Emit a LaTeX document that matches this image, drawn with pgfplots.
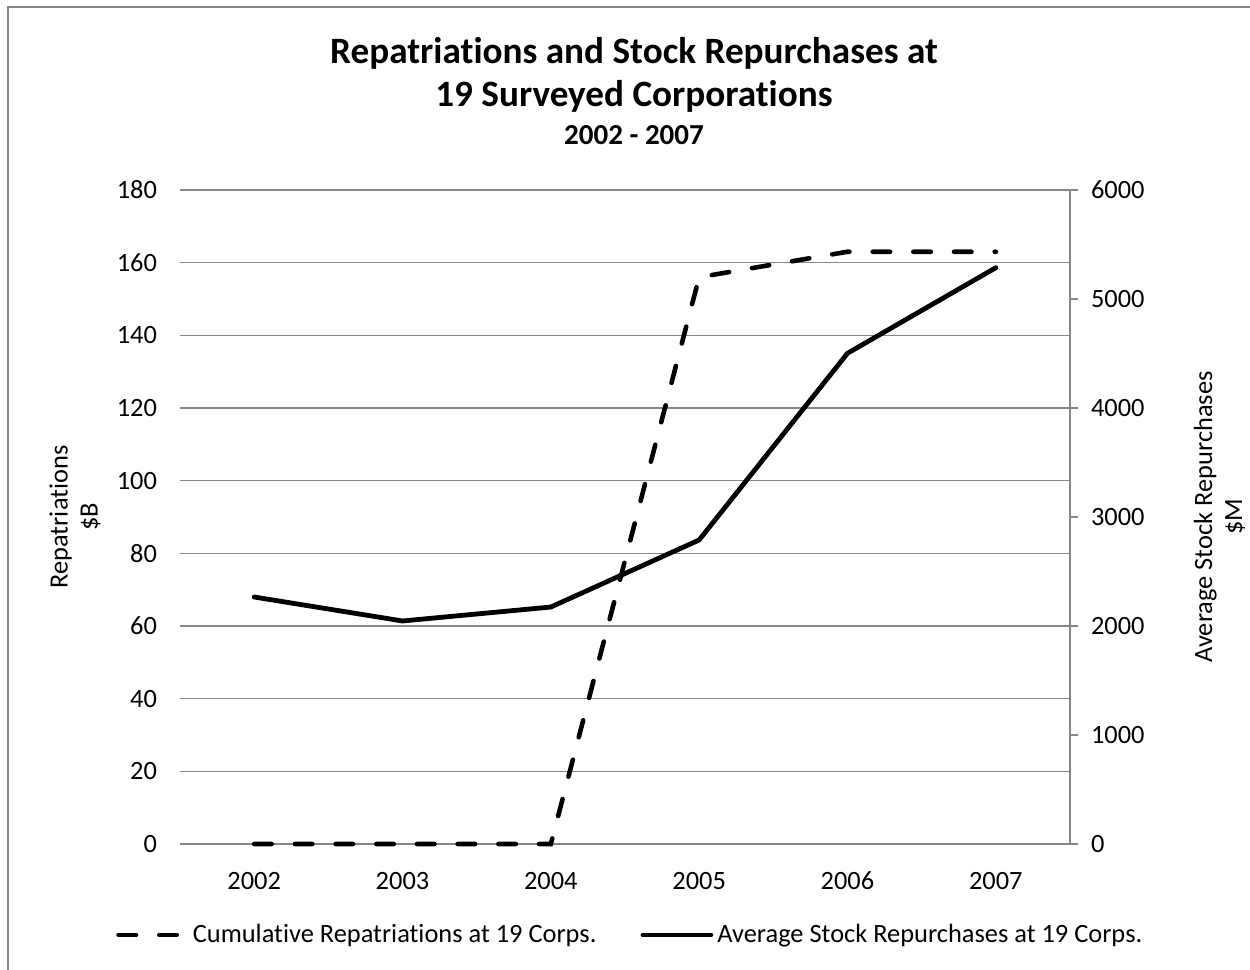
\documentclass[border=0pt]{standalone}
\usepackage{fontspec}
\setmainfont{Carlito}[Ligatures=NoCommon]
\usepackage{pgfplots}
\pgfplotsset{compat=1.18}
\definecolor{gridgray}{RGB}{134,134,134}

\pgfplotsset{
  common/.style={
    at={(90pt,63pt)}, anchor=south west,
    scale only axis, width=445pt, height=327pt,
    xmin=-0.5, xmax=5.5,
    /pgf/number format/assume math mode=true,
    /pgf/number format/set thousands separator={},
    tick label style={font=\fontsize{13.2}{15}\selectfont},
    label style={font=\fontsize{13.2}{15}\selectfont},
  }
}

\begin{document}
\begin{tikzpicture}[x=1pt,y=1pt]
\useasboundingbox (0,0) rectangle (625,485);
\draw[gridgray, line width=0.8pt] (4,0) -- (4,481.5) -- (625,481.5);

\node[font=\fontsize{18.6}{21}\selectfont\bfseries] at (317,458.5) {Repatriations and Stock Repurchases at};
\node[font=\fontsize{18.6}{21}\selectfont\bfseries] at (317,437) {19 Surveyed Corporations};
\node[font=\fontsize{14.5}{16}\selectfont\bfseries] at (317,417.5) {2002 - 2007};

% left axis
\begin{axis}[common,
  ymin=0, ymax=180, ytick={0,20,...,180},
  xtick={0,1,2,3,4,5},
  xticklabels={2002,2003,2004,2005,2006,2007},
  axis line style={draw=none},
  major tick length=0pt,
  ymajorgrids,
  grid style={gridgray, line width=0.7pt},
  yticklabel style={xshift=-8pt},
  xticklabel style={yshift=-10pt, text height=9pt, text depth=0pt},
  ylabel={Repatriations\\\$B},
  ylabel style={align=center, at={(axis description cs:-0.118,0.5)}, anchor=center},
  clip=false,
]
\addplot[black, line width=2.3pt, line cap=round, dash pattern=on 8.75pt off 11.6pt]
  coordinates {(0,0) (1,0) (2,0) (3,156) (4,163) (5,163)};
\end{axis}

% right axis
\begin{axis}[common,
  ymin=0, ymax=6000, ytick={0,1000,...,6000},
  axis x line=none,
  axis y line*=right,
  axis line style={gridgray, line width=0.7pt},
  ytick style={gridgray, line width=0.7pt},
  tick align=outside,
  major tick length=4pt,
  yticklabel style={xshift=3pt},
  ylabel={Average Stock Repurchases\\\$M},
  ylabel style={align=center, at={(axis description cs:1.168,0.5)}, anchor=center, rotate=0},
  legend columns=2,
  legend style={draw=none, fill=none, at={(0.507,-0.139)}, anchor=center,
    font=\fontsize{13.2}{15}\selectfont,
    /tikz/every even column/.append style={column sep=20pt}},
  legend image code/.code={\draw[#1] (2pt,0pt) -- (36pt,0pt);},
  clip=false,
]
\addlegendimage{black, line width=2.3pt, line cap=round, dash pattern=on 8.75pt off 11.6pt}
\addlegendentry{Cumulative Repatriations at 19 Corps.}
\addplot[black, line width=2.4pt, line cap=round, line join=round]
  coordinates {(0,2266) (1,2046) (2,2174) (3,2789) (4,4502) (5,5287)};
\addlegendentry{Average Stock Repurchases at 19 Corps.}
\end{axis}
\end{tikzpicture}
\end{document}
